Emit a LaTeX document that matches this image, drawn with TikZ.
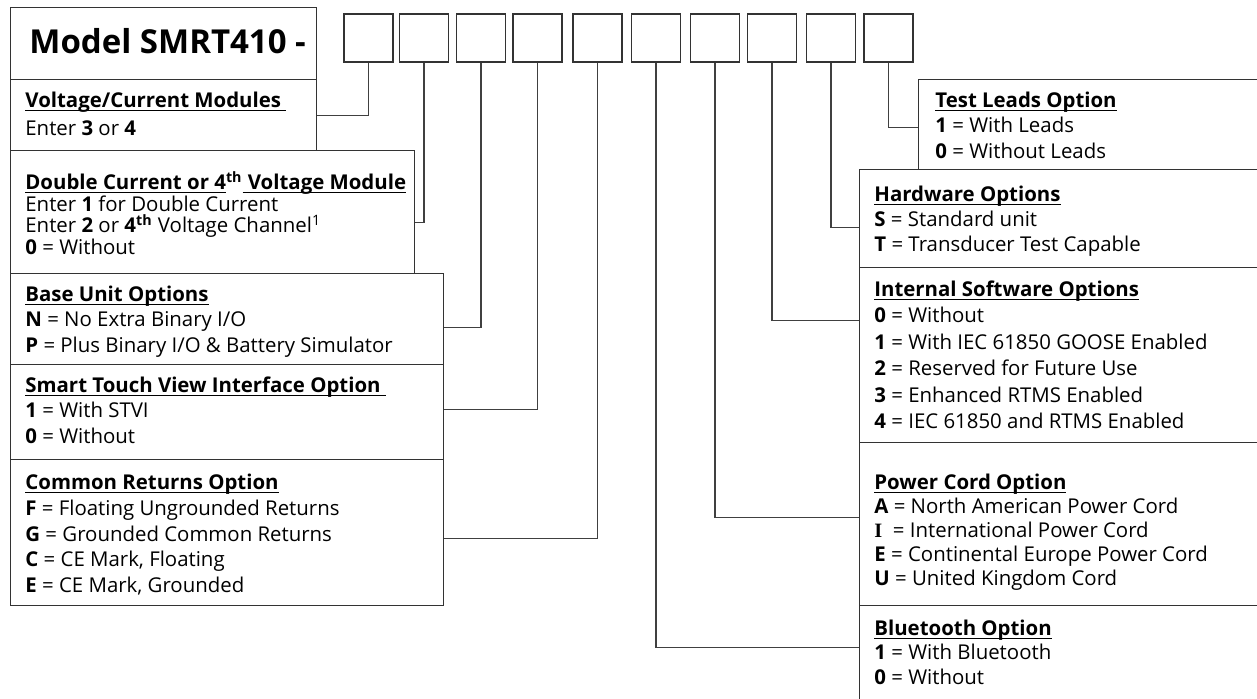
\documentclass[tikz,border=0pt]{standalone}
\usepackage{fontspec}
\setmainfont{Open Sans}
\newfontfamily\serifletter{Liberation Serif}

\newsavebox\ulbox
\newcommand{\undertext}[1]{\sbox\ulbox{#1}\rlap{\rule[-1.9pt]{\wd\ulbox}{0.55pt}}\usebox\ulbox}
\newcommand{\topline}{\rule{0pt}{9pt}}
\newcommand{\opthead}[1]{{\bfseries\undertext{#1}}}
\newcommand{\optline}[2]{\textbf{#1} = #2}

\begin{document}
\begin{tikzpicture}[x=0.5pt, y=-0.5pt,
  box/.style={draw=black!80, line width=0.6pt, inner sep=0pt, anchor=north west},
  codebox/.style={draw=black!80, line width=0.6pt, inner sep=0pt,
    minimum width=24.5pt, minimum height=24pt},
  optext/.style={inner sep=0pt, anchor=north west, align=left,
    font=\fontsize{10.2}{#1}\selectfont},
  optext/.default=12.5pt,
  link/.style={draw=black!75, line width=0.55pt}]
  \clip (0,0) rectangle (1257,698);

  % model number and the ten code boxes
  \node[box, minimum width=153pt, minimum height=36pt] (model) at (10,7) {};
  \node[inner sep=0pt, anchor=base west, font=\fontsize{16.5}{19}\selectfont\bfseries]
    (modeltxt) at (29,53) {Model SMRT410 -};
  \foreach \x [count=\i] in {368.5,424,481,537.5,597.5,656,715,772,831,888.5}
    \node[codebox] (c\i) at (\x,38) {};

  % options on the left
  \node[box, minimum width=153pt, minimum height=35.5pt] (volt) at (10,79) {};
  \node[optext=14pt] (volttxt) at (25,89) {\topline\opthead{Voltage/Current Modules\ }\\
    Enter \textbf{3} or \textbf{4}};

  \node[box, minimum width=202pt, minimum height=61.5pt] (dbl) at (10,150) {};
  \node[optext=10.75pt] (dbltxt) at (25,171) {\topline{\bfseries\undertext{Double Current or 4}\textsuperscript{th}\undertext{\ Voltage Module}}\\
    Enter \textbf{1} for Double Current\\
    Enter \textbf{2} or \textbf{4\textsuperscript{th}} Voltage Channel\textsuperscript{1}\\
    \optline{0}{Without}};

  \node[box, minimum width=216.5pt, minimum height=45.5pt] (base) at (10,273) {};
  \node[optext=12.75pt] (basetxt) at (25,283) {\topline\opthead{Base Unit Options}\\
    \optline{N}{No Extra Binary I/O}\\
    \optline{P}{Plus Binary I/O \& Battery Simulator}};

  \node[box, minimum width=216.5pt, minimum height=47.5pt] (smart) at (10,364) {};
  \node[optext=12.75pt] (smarttxt) at (25,374) {\topline\opthead{Smart Touch View Interface Option\ }\\
    \optline{1}{With STVI}\\
    \optline{0}{Without}};

  \node[box, minimum width=216.5pt, minimum height=73pt] (ret) at (10,459) {};
  \node[optext=12.9pt] (rettxt) at (25,471) {\topline\opthead{Common Returns Option}\\
    \optline{F}{Floating Ungrounded Returns}\\
    \optline{G}{Grounded Common Returns}\\
    \optline{C}{CE Mark, Floating}\\
    \optline{E}{CE Mark, Grounded}};

  % options on the right
  \node[box, minimum width=176pt, minimum height=45pt] (leads) at (918,79) {};
  \node[optext=12.75pt] (leadstxt) at (935,89) {\topline\opthead{Test Leads Option}\\
    \optline{1}{With Leads}\\
    \optline{0}{Without Leads}};

  \node[box, minimum width=205.5pt, minimum height=49pt] (hw) at (859,169) {};
  \node[optext] (hwtxt) at (874,183) {\topline\opthead{Hardware Options}\\
    \optline{S}{Standard unit}\\
    \optline{T}{Transducer Test Capable}};

  \node[box, minimum width=205.5pt, minimum height=87.5pt] (soft) at (859,267) {};
  \node[optext=13.2pt] (softtxt) at (874,278) {\topline\opthead{Internal Software Options}\\
    \optline{0}{Without}\\
    \optline{1}{With IEC 61850 GOOSE Enabled}\\
    \optline{2}{Reserved for Future Use}\\
    \optline{3}{Enhanced RTMS Enabled}\\
    \optline{4}{IEC 61850 and RTMS Enabled}};

  \node[box, minimum width=205.5pt, minimum height=81.5pt] (power) at (859,442) {};
  \node[optext=12pt] (powertxt) at (874,471) {\topline\opthead{Power Cord Option}\\
    \optline{A}{North American Power Cord}\\
    \textbf{\serifletter I}\ \ = International Power Cord\\
    \optline{E}{Continental Europe Power Cord}\\
    \optline{U}{United Kingdom Cord}};

  \node[box, minimum width=205.5pt, minimum height=50pt] (blue) at (859,605) {};
  \node[optext=12.25pt] (bluetxt) at (874,617) {\topline\opthead{Bluetooth Option}\\
    \optline{1}{With Bluetooth}\\
    \optline{0}{Without}};

  % code boxes to their options
  \draw[link] (c1.south) |- (volt.east);
  \draw[link] (c2.south) |- ([yshift=-5.25pt]dbl.east);
  \draw[link] (c3.south) |- ([yshift=-4.25pt]base.east);
  \draw[link] (c4.south) |- ([yshift=1.25pt]smart.east);
  \draw[link] (c5.south) |- ([yshift=-3pt]ret.east);
  \draw[link] (c6.south) |- ([yshift=4pt]blue.west);
  \draw[link] (c7.south) |- ([yshift=3.25pt]power.west);
  \draw[link] (c8.south) |- ([yshift=17.25pt]soft.west);
  \draw[link] (c9.south) |- ([yshift=-4.5pt]hw.west);
  \draw[link] (c10.south) |- ([yshift=-1.5pt]leads.west);
\end{tikzpicture}
\end{document}
